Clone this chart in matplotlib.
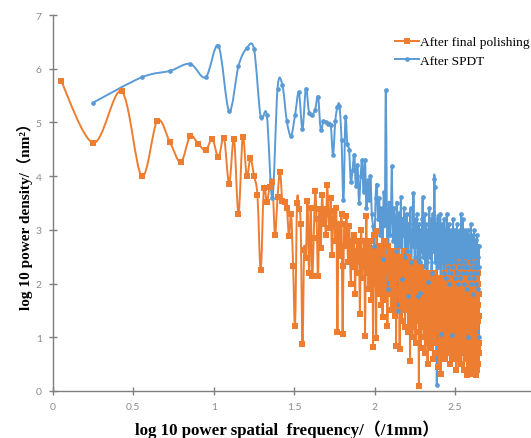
import numpy as np
import matplotlib
matplotlib.use("Agg")
import matplotlib.pyplot as plt
from matplotlib.path import Path
from matplotlib.patches import PathPatch
from matplotlib.lines import Line2D

# ---- data -------------------------------------------------------------
polish_label = "After final polishing"
spdt_label = "After SPDT"

# frequency grids (1/mm): harmonics of the sampling length
polish_first_freq = 1.12
polish_step = 0.89
spdt_step = 1.78

# log10 PSD, after final polishing
polish_psd = [
    5.78, 4.62, 5.58, 4.00, 5.03, 4.63, 4.26, 4.74, 4.60, 4.48,
    4.69, 4.35, 4.71, 3.86, 4.69, 3.30, 4.73, 4.01, 4.33, 4.00,
    3.64, 2.25, 3.77, 3.52, 3.80, 3.89, 2.91, 3.61, 4.08, 3.53,
    3.51, 3.41, 2.88, 3.30, 2.33, 1.21, 3.50, 3.38, 3.10, 0.87,
    2.63, 2.48, 3.53, 2.20, 3.41, 2.14, 2.85, 3.72, 3.20, 2.14,
    3.38, 2.67, 3.65, 3.10, 3.38, 2.90, 3.84, 3.30, 3.04, 3.60,
    2.54, 3.20, 3.35, 2.80, 3.40, 1.09, 3.07, 2.80, 2.51, 3.30,
    1.06, 2.33, 3.10, 2.70, 3.25,
    2.9, 2.4, 3.07, 2.6, 2.0, 2.8, 2.5, 2.3, 2.9, 1.8,
    2.6, 2.2, 2.8, 2.4, 2.7, 1.43, 2.5, 3.0, 2.1, 2.6,
    2.3, 2.8, 1.03, 2.4, 3.25, 2.2, 2.7, 1.9, 2.5, 2.2,
    2.8, 1.7, 2.4, 2.6, 0.81, 2.3, 2.9, 2.0, 2.5, 0.98,
    2.97, 2.2, 2.6, 1.8, 2.4, 2.1, 2.7, 1.6, 2.3, 2.5,
    1.37, 2.6, 2.0, 2.4, 1.7, 2.8, 2.2, 1.9, 2.5, 1.21,
    2.3, 2.7, 1.8, 2.4, 2.1, 2.6, 1.5, 2.2, 2.5, 1.9,
    2.4, 1.6, 2.6, 2.0, 2.3, 1.4, 2.5, 0.84, 2.2, 1.8,
    2.6, 2.1, 1.5, 2.4, 1.9, 0.79, 2.3, 1.7, 2.5, 2.0,
    1.3, 2.4, 1.9, 2.2, 1.6, 2.6, 1.8, 2.1, 1.2, 2.3,
    1.9, 1.5, 2.4, 2.0, 1.7, 2.2, 1.1, 2.5, 1.8, 2.0,
    1.4, 0.56, 2.3, 1.8, 2.1, 1.5, 2.4, 1.0, 1.9, 2.2,
    1.6, 2.0, 1.2, 2.4, 1.7, 1.9, 0.9, 2.2, 1.5, 2.1,
    1.8, 1.3, 2.3, 1.6, 2.0, 1.1, 0.10, 1.9, 2.2, 1.4,
    1.8, 2.1, 0.8, 1.6, 2.3, 1.5, 1.9, 1.2, 2.0, 1.7,
    2.2, 1.0, 1.8, 1.5, 2.1, 0.7, 1.7, 2.0, 1.3, 1.9,
    1.6, 2.2, 1.1, 1.8, 0.5, 1.5, 2.0, 1.3, 1.7, 2.1,
    0.9, 1.6, 1.9, 1.2, 2.2, 1.5, 0.8, 1.8, 1.4, 2.0,
    1.1, 1.7, 2.1, 0.6, 1.5, 1.9, 1.2, 1.6, 2.2, 1.0,
    1.8, 1.4, 2.0, 0.9, 1.6, 1.3, 1.9, 0.7, 1.7, 2.1,
    1.2, 1.5, 1.8, 0.45, 1.6, 2.0, 1.1, 1.4, 1.9, 0.8,
    1.7, 1.3, 2.1, 0.32, 1.5, 1.8, 1.0, 1.6, 2.0, 1.2,
    1.4, 1.9, 0.7, 1.6, 1.2, 1.8, 1.0, 2.2, 1.5, 0.9,
    1.7, 1.3, 2.0, 0.6, 1.5, 1.8, 1.1, 1.4, 2.1, 0.8,
    1.6, 1.2, 1.9, 1.0, 1.5, 2.3, 0.7, 1.7, 1.3, 1.8,
    0.9, 1.6, 2.0, 1.1, 1.4, 0.5, 1.8, 1.2, 1.6, 2.1,
    1.0, 1.5, 1.9, 0.8, 1.7, 1.3, 2.2, 1.1, 1.6, 0.6,
    1.8, 1.4, 2.0, 0.9, 1.5, 1.2, 1.9, 0.7, 1.6, 2.3,
    1.1, 1.7, 0.8, 1.5, 2.0, 1.2, 1.8, 0.4, 1.6, 1.3,
    2.1, 0.9, 1.5, 1.8, 1.0, 2.4, 1.3, 0.7, 1.7, 1.4,
    1.9, 1.1, 1.6, 0.6, 2.0, 1.3, 1.8, 0.9, 1.5, 2.2,
    1.0, 1.7, 1.2, 0.5, 1.9, 1.4, 2.1, 0.8, 1.6, 1.1,
    1.8, 2.3, 0.7, 1.5, 1.2, 2.0, 0.9, 1.7, 1.4, 0.4,
    1.9, 1.1, 2.2, 1.3, 0.8, 1.6, 2.0, 1.0, 1.5, 1.8,
    0.6, 1.7, 1.2, 2.1, 0.9, 1.4, 1.9, 0.3, 1.6, 2.4,
    1.1, 1.8, 0.7, 1.5, 2.0, 1.2, 0.5, 1.7, 1.3, 2.2,
    0.9, 1.6, 1.9, 0.6, 1.4, 2.1, 1.0, 1.7, 0.8, 1.5,
    2.0, 1.2, 0.4, 1.8, 1.3, 2.3, 0.7, 1.6, 1.1, 1.9,
    0.9, 1.5, 0.32, 1.7, 2.1, 1.0, 1.4, 0.6, 1.8, 1.2,
    2.2, 0.8, 1.6, 1.3, 0.5, 1.9, 1.1, 1.7, 2.4, 0.7,
    1.5, 1.2, 2.0, 0.3, 1.6, 1.8, 0.9, 1.4, 2.1, 0.6,
    1.7, 1.0, 1.9, 0.4, 1.5, 2.2, 0.8, 1.3, 1.8, 0.5,
    1.6, 2.0, 0.9, 1.4, 0.7, 1.8,
]

# log10 PSD, after SPDT
spdt_psd = [
    5.37, 5.84, 5.96, 6.09, 5.84, 6.43, 5.21, 6.05, 6.38, 6.36,
    5.10, 5.14, 3.59, 5.63, 5.70, 5.02, 4.75, 5.14, 5.56, 4.88,
    5.63, 5.18, 5.14, 5.24, 5.48, 4.86, 5.02, 5.00, 4.98, 4.95,
    4.40, 5.02, 5.29, 5.31, 4.68, 3.56, 5.10,
    4.6, 4.49, 3.9, 4.12, 4.4, 3.81, 4.2, 3.5, 4.0, 4.3,
    3.7, 4.3, 3.4, 3.93, 3.56, 4.0, 3.3, 3.07, 2.7, 3.6,
    3.84, 3.2, 3.6, 2.9, 3.4, 2.46, 3.7, 3.1, 5.6, 3.3,
    1.89, 3.5, 2.9, 3.3, 4.18, 2.8, 3.4, 3.0, 2.6, 3.5,
    3.1, 1.49, 3.3, 2.7, 3.62, 2.08, 3.2, 2.9, 3.4, 2.5,
    3.0, 3.3, 2.6, 1.76, 3.1, 2.8, 3.4, 2.4, 3.0, 2.7,
    3.69, 2.9, 2.5, 3.2, 2.7, 3.3, 1.77, 2.8, 3.1, 2.4,
    1.83, 3.0, 2.6, 3.2, 3.61, 2.5, 2.9, 3.3, 2.3, 2.8,
    3.1, 2.4, 2.02, 3.0, 2.7, 3.4, 2.5, 2.9, 3.2, 2.2,
    2.8, 3.3, 2.6, 3.0, 3.95, 3.8, 2.4, 3.1, 2.7, 0.11,
    2.9, 3.2, 2.3, 2.7, 3.0, 2.5, 3.3, 1.06, 2.8, 2.4,
    3.1, 2.6, 2.9, 2.2, 3.2, 2.7, 2.4, 3.0, 2.1, 2.8,
    3.3, 2.5, 2.9, 2.3, 2.7, 3.1, 2.0, 2.6, 2.9, 2.4,
    3.0, 2.2, 1.04, 2.8, 2.5, 3.2, 2.3, 2.7, 2.9, 2.1,
    2.6, 3.0, 2.4, 2.8, 2.2, 3.1, 2.5, 2.0, 2.7, 2.9,
    2.3, 2.6, 3.0, 2.1, 2.8, 2.4, 3.3, 2.5, 2.2, 2.9,
    2.6, 3.2, 2.3, 2.7, 2.0, 2.9, 2.4, 2.6, 3.0, 2.2,
    2.8, 2.5, 1.9, 2.7, 2.3, 3.0, 1.0, 2.6, 2.8, 2.1,
    2.5, 2.9, 2.2, 2.7, 2.4, 3.1, 2.0, 2.6, 2.8, 2.3,
    2.7, 1.8, 2.5, 2.9, 2.2, 2.6, 3.0, 2.1, 2.4, 2.8,
    2.3, 2.6, 2.82, 2.0, 2.7, 2.4, 2.9, 2.2, 2.5, 1.9,
    2.7, 2.3, 1.0, 2.7,
]

x_ticks = [0, 0.5, 1, 1.5, 2, 2.5]
x_tick_labels = ["0", "0.5", "1", "1.5", "2", "2.5"]
y_ticks = [0, 1, 2, 3, 4, 5, 6, 7]

# ---- styling ------------------------------------------------------------
ORANGE = "#ED7D31"
BLUE = "#5B9BD5"
AXIS_GREY = "#7f7f7f"
SERIF = ["Liberation Serif", "Noto Sans CJK SC", "DejaVu Serif"]


def smooth_path(x, y, tension=1.0 / 6.0):
    """Cubic Bezier path through the points (spreadsheet-style smoothed line)."""
    pts = np.column_stack([x, y])
    n = len(pts)
    verts = [pts[0]]
    codes = [Path.MOVETO]
    for i in range(n - 1):
        p0 = pts[i - 1] if i > 0 else pts[i]
        p1 = pts[i]
        p2 = pts[i + 1]
        p3 = pts[i + 2] if i + 2 < n else pts[i + 1]
        verts += [p1 + (p2 - p0) * tension, p2 - (p3 - p1) * tension, p2]
        codes += [Path.CURVE4] * 3
    return Path(verts, codes)


polish_freq = polish_step * np.arange(1, len(polish_psd) + 1)
polish_freq[0] = polish_first_freq
spdt_freq = spdt_step * np.arange(1, len(spdt_psd) + 1)

x_polish = np.log10(polish_freq)
x_spdt = np.log10(spdt_freq)

fig = plt.figure(figsize=(5.31, 4.39), dpi=100)
ax = fig.add_axes([53 / 531, 47 / 439, 478 / 531, 376 / 439])

series = [
    (x_polish, np.array(polish_psd), ORANGE, "s", 4.0, polish_label),
    (x_spdt, np.array(spdt_psd), BLUE, "o", 3.4, spdt_label),
]
handles = []
for xs, ys, color, marker, ms, label in series:
    ax.add_patch(PathPatch(smooth_path(xs, ys), fill=False, edgecolor=color,
                           linewidth=1.4, joinstyle="round", zorder=2))
    ax.plot(xs, ys, linestyle="none", marker=marker, markersize=ms,
            color=color, markeredgewidth=0, zorder=3)
    handles.append(Line2D([], [], color=color, linewidth=1.4, marker=marker,
                          markersize=ms, markeredgewidth=0, label=label))

ax.set_xlim(0, 2.973)
ax.set_ylim(0, 7)
ax.set_xticks(x_ticks)
ax.set_xticklabels(x_tick_labels)
ax.set_yticks(y_ticks)

for side in ("top", "right"):
    ax.spines[side].set_visible(False)
for side in ("left", "bottom"):
    ax.spines[side].set_color(AXIS_GREY)
    ax.spines[side].set_linewidth(1.0)
ax.tick_params(direction="inout", length=6, width=1.0, color=AXIS_GREY,
               labelcolor="#8c8c8c", labelsize=7.5, pad=5)
for lab in ax.get_xticklabels() + ax.get_yticklabels():
    lab.set_family(["Lato", "DejaVu Sans"])

fig.text(0.047, (439 - (313 + 113) / 2) / 439,
         "log 10 power density/（nm²）", rotation=90, ha="center", va="center",
         family=SERIF, fontweight="bold", fontsize=11)
fig.text((137 + 438) / 2 / 531, 1 - 430 / 439,
         "log 10 power spatial  frequency/（/1mm）", ha="center", va="center",
         family=SERIF, fontweight="bold", fontsize=12.2)

fig.legend(handles=handles, loc="upper left", bbox_to_anchor=(395 / 531, 1 - 37 / 439),
           frameon=False, prop={"family": SERIF, "size": 9.6},
           handlelength=1.8, handletextpad=0.1, borderpad=0, labelspacing=0.45,
           borderaxespad=0)

fig.savefig("out.png", dpi=100)
